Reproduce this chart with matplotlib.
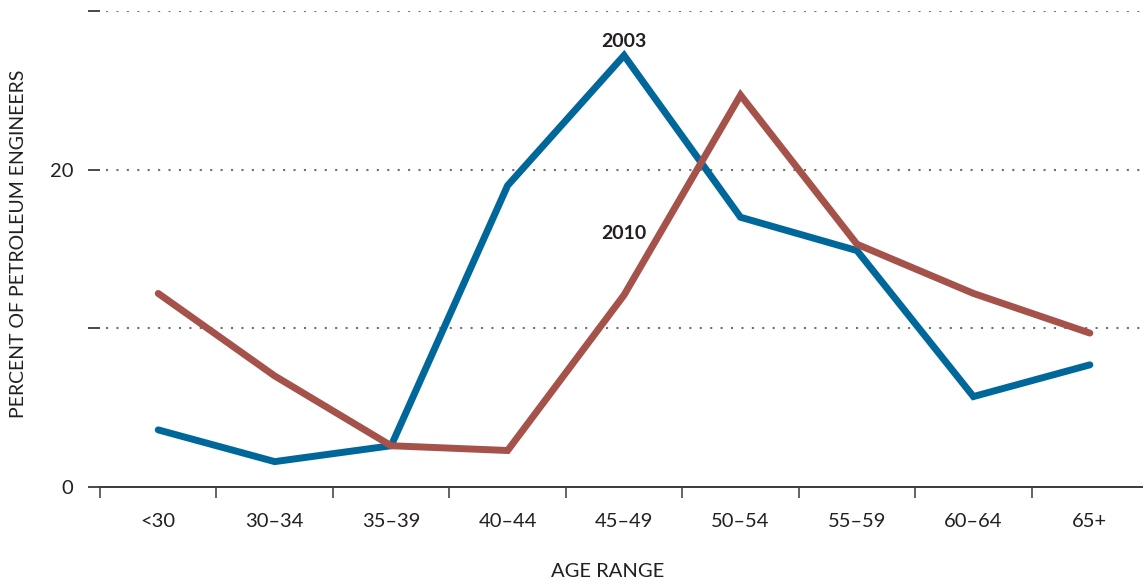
import matplotlib.pyplot as plt
import numpy as np

plt.rcParams['font.family'] = ['Lato', 'DejaVu Sans']

ages = ['<30', '30\u201334', '35\u201339', '40\u201344', '45\u201349',
        '50\u201354', '55\u201359', '60\u201364', '65+']
pct_2003 = [3.6, 1.6, 2.6, 19.0, 27.2, 17.0, 14.9, 5.7, 7.7]
pct_2010 = [12.2, 7.0, 2.6, 2.3, 12.1, 24.7, 15.3, 12.2, 9.7]
grid_vals = [10, 20, 30]

BLUE = '#00679a'
RED = '#a5524a'
TXT = '#231f20'

fig = plt.figure(figsize=(11.43, 5.86), dpi=100)
ax = fig.add_axes([100/1143, 99/586, 1043/1143, 476/586])

x = np.arange(len(ages))
ax.hlines(grid_vals, -0.45, 8.46, colors='#707070', linestyles=(0, (1, 4)),
          linewidth=1.5, zorder=1)
ax.plot(x, pct_2003, color=BLUE, lw=5, solid_joinstyle='miter',
        solid_capstyle='round', zorder=3)
ax.plot(x, pct_2010, color=RED, lw=5, solid_joinstyle='miter',
        solid_capstyle='round', zorder=3)

ax.text(4, 28.05, '2003', ha='center', va='center', fontsize=14,
        fontweight='bold', color=TXT)
ax.text(4, 15.95, '2010', ha='center', va='center', fontsize=14,
        fontweight='bold', color=TXT)

ax.set_xlim(-0.5, 8.456)
ax.set_ylim(0, 30)

for s in ['top', 'right', 'left']:
    ax.spines[s].set_visible(False)
ax.spines['bottom'].set_color('#3a3a3a')
ax.spines['bottom'].set_linewidth(1.4)

ax.set_xticks(x)
ax.set_xticklabels(ages, fontsize=14.5, color=TXT)
ax.set_xticks(np.arange(-0.5, 8, 1), minor=True)
ax.tick_params(axis='x', which='major', length=0, pad=19)
ax.tick_params(axis='x', which='minor', length=8, width=1.1,
               color='#3a3a3a', direction='out')

ax.set_yticks([0, 10, 20, 30])
ax.set_yticklabels(['0', '', '20', ''], fontsize=14.5, color=TXT)
ax.tick_params(axis='y', length=9, width=1.3, color='#3a3a3a', pad=10)

ax.set_xlabel('AGE RANGE', fontsize=14.5, color=TXT)
ax.xaxis.set_label_coords((608 - 100) / 1043, (586 - 563 - 99) / 476)
ax.set_ylabel('PERCENT OF PETROLEUM ENGINEERS', fontsize=14, color=TXT)
ax.yaxis.set_label_coords((27 - 100) / 1043, 0.51)

plt.savefig('out.png', dpi=100)
